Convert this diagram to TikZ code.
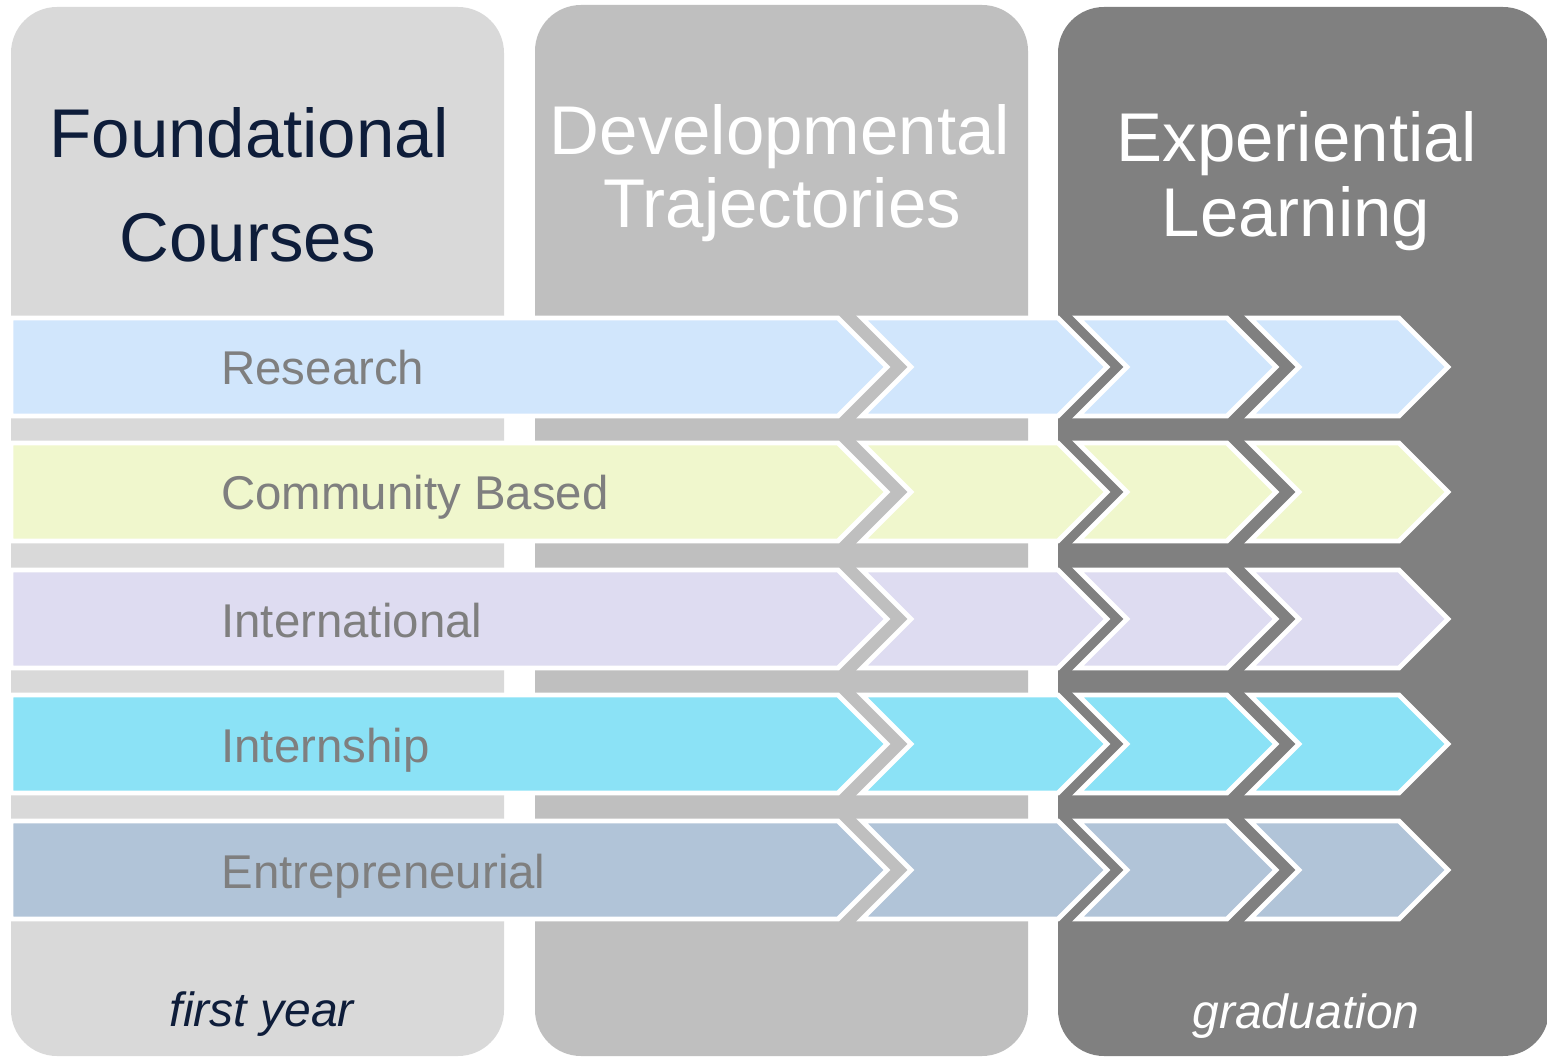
\documentclass[tikz,border=0pt]{standalone}
\usepackage{fontspec}
\setmainfont{Liberation Sans}[Ligatures=CommonOff]
\definecolor{colA}{HTML}{D9D9D9}
\definecolor{colB}{HTML}{BFBFBF}
\definecolor{colC}{HTML}{808080}
\definecolor{navy}{HTML}{0E1D3A}
\definecolor{lblgray}{HTML}{7F7F7F}
\definecolor{rRes}{HTML}{D1E6FC}
\definecolor{rCom}{HTML}{F0F7CD}
\definecolor{rInt}{HTML}{DEDCF1}
\definecolor{rIsh}{HTML}{8BE2F6}
\definecolor{rEnt}{HTML}{B1C4D8}
\begin{document}
\begin{tikzpicture}[x=0.5pt,y=-0.5pt,
  column/.style={rounded corners=23pt},
  chev/.style={draw=white, line width=2.4pt, line join=miter},
  hdr/.style={font=\fontsize{34.5}{40}\selectfont, anchor=base, inner sep=0pt},
  lbl/.style={font=\fontsize{23.7}{28}\selectfont, text=lblgray, anchor=base west, inner sep=0pt},
  foot/.style={font=\itshape\fontsize{24}{28}\selectfont, anchor=base, inner sep=0pt}]
\useasboundingbox (0,0) rectangle (1547,1058);
\fill[white] (0,0) rectangle (1547,1058);
% columns
\fill[colA, column] (11,7) rectangle (504,1056);
\fill[colB, column] (535,5) rectangle (1028,1056);
\fill[colC, column] (1058,7) rectangle (1549,1056);
% chevron rows
\foreach \c/\col in {367/rRes, 492/rCom, 619/rInt, 744/rIsh, 870/rEnt} {
  \path[chev, fill=\col] (11,\c-49) -- (838,\c-49) -- (887,\c) -- (838,\c+49) -- (11,\c+49) -- cycle;
  \path[chev, fill=\col] (862,\c-49) -- (1058,\c-49) -- (1107,\c) -- (1058,\c+49) -- (862,\c+49) -- (911,\c) -- cycle;
  \path[chev, fill=\col] (1078,\c-49) -- (1227,\c-49) -- (1276,\c) -- (1227,\c+49) -- (1078,\c+49) -- (1127,\c) -- cycle;
  \path[chev, fill=\col] (1250,\c-49) -- (1399,\c-49) -- (1448,\c) -- (1399,\c+49) -- (1250,\c+49) -- (1299,\c) -- cycle;
}
% headers
\node[hdr, text=navy] (found) at (249,158) {Foundational};
\node[hdr, text=navy] (courses) at (248,262) {Courses};
\node[hdr, text=white] (devel) at (780,155) {Developmental};
\node[hdr, text=white] (traj) at (782,228) {Trajectories};
\node[hdr, text=white] (exper) at (1297,162) {Experiential};
\node[hdr, text=white] (learn) at (1296,237) {Learning};
% row labels
\node[lbl] (research) at (221,385) {Research};
\node[lbl] (community) at (221,510) {Community Based};
\node[lbl] (intl) at (221,637) {International};
\node[lbl] (intern) at (221,762) {Internship};
\node[lbl] (entre) at (221,888) {Entrepreneurial};
% footers
\node[foot, text=navy] (firstyear) at (262,1026) {first year};
\node[foot, text=white] (grad) at (1306,1028) {graduation};
\end{tikzpicture}
\end{document}
